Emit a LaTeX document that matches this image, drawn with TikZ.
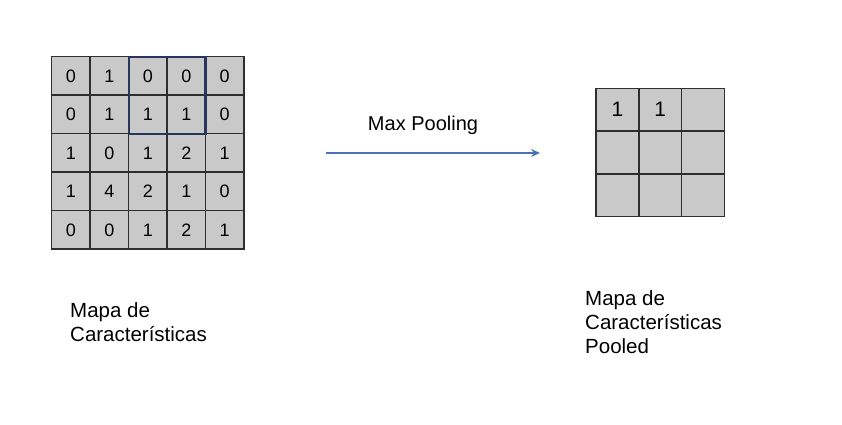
\documentclass[tikz,border=0pt]{standalone}
\usepackage{fontspec}
\setmainfont{Liberation Sans}
\usetikzlibrary{arrows.meta}
\definecolor{cellgray}{HTML}{C9C9C9}
\definecolor{gridline}{HTML}{2E2E2E}
\definecolor{hlblue}{HTML}{27365A}
\definecolor{arrowblue}{HTML}{4A72B2}
\begin{document}
\begin{tikzpicture}[x=1pt,y=-1pt,
  lcell/.style={draw=gridline,fill=cellgray,line width=1.5pt,minimum size=38.45pt,inner sep=0pt,outer sep=0pt,text height=12.9pt,text depth=0pt,font=\fontsize{18}{21}\selectfont},
  rcell/.style={draw=gridline,fill=cellgray,line width=1.5pt,minimum size=42.8pt,inner sep=0pt,outer sep=0pt},
  bignum/.style={font=\fontsize{21}{25}\selectfont},
  hl/.style={draw=hlblue,line width=2.2pt},
  flow/.style={draw=arrowblue,line width=1.8pt,-{Stealth[length=9pt,width=8pt]}},
  lbl/.style={inner sep=0pt,align=left,font=\fontsize{20.5}{24.4}\selectfont},
]
\useasboundingbox (0,0) rectangle (842,424);
% left 5x5 grid
\foreach \row/\vals in {1/{0,1,0,0,0},2/{0,1,1,1,0},3/{1,0,1,2,1},4/{1,4,2,1,0},5/{0,0,1,2,1}}{
  \foreach \v [count=\col] in \vals {
    \node[lcell] (L-\row-\col) at ({51.7+38.45*(\col-0.5)},{56.7+38.45*(\row-0.5)}) {\v};
  }
}
\draw[hl] (L-1-3.north west) rectangle (L-2-4.south east);
% right 3x3 grid
\foreach \row in {1,2,3}{
  \foreach \col in {1,2,3}{
    \node[rcell] (R-\row-\col) at ({596+42.8*(\col-0.5)},{88.3+42.8*(\row-0.5)}) {};
  }
}
\node[bignum] at (R-1-1) {1};
\node[bignum] at (R-1-2) {1};
% arrow
\coordinate (a1) at (326,153);
\coordinate (a2) at (540,153);
\draw[flow] (a1) -- (a2);
\node[font=\fontsize{20}{24}\selectfont] (mp) at (423,125) {Max Pooling};
% labels
\node[lbl,anchor=north west] (lt) at (70,302) {Mapa de\\Características};
\node[lbl,anchor=north west] (rt) at (585,290) {Mapa de\\Características\\Pooled};
\end{tikzpicture}
\end{document}
